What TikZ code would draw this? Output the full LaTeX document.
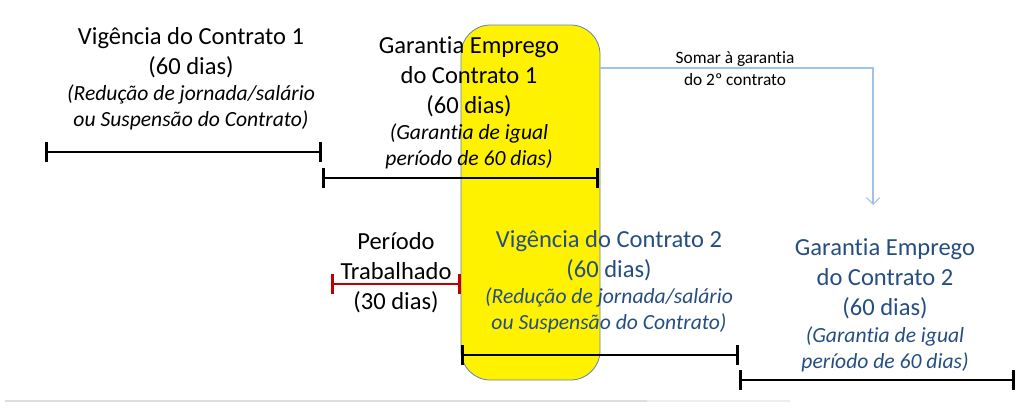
\documentclass[tikz,border=0pt]{standalone}
\usepackage{fontspec}
\setmainfont[Ligatures=NoCommon]{Carlito}
\usetikzlibrary{arrows.meta}
\definecolor{myellow}{RGB}{255,242,0}
\definecolor{mborder}{RGB}{96,130,180}
\definecolor{mblue}{RGB}{36,78,130}
\definecolor{mred}{RGB}{192,0,0}
\definecolor{marrow}{RGB}{157,195,230}

\tikzset{
  bar/.style={line width=2.2pt, {Bar[width=15pt]}-{Bar[width=15pt]}},
  title/.style={align=center, inner sep=0pt, font=\fontsize{18.4}{22.5}\selectfont},
  note/.style={align=center, inner sep=0pt, font=\fontsize{16.2}{19}\selectfont\itshape},
  small/.style={align=center, inner sep=0pt, font=\fontsize{13}{16.5}\selectfont},
  arr/.style={marrow, line width=0.8pt, -{Straight Barb[length=5pt,width=10pt]}}
}

\begin{document}
\begin{tikzpicture}[x=0.75pt, y=-0.75pt]
  \useasboundingbox (0,0) rectangle (1024,407);

  % yellow highlight
  \draw [fill=myellow, draw=mborder, line width=0.6pt, rounded corners=22pt] (461,25) rectangle (600,380);

  % faint line at the bottom
  \draw [black!13, line width=2.2pt] (5,401) -- (647,401);
  \draw [black!7, line width=2.2pt] (647,401) -- (790,401);

  % bar end points
  \coordinate (v1a) at (45,152);
  \coordinate (v1b) at (322,152);
  \coordinate (g1a) at (322,178);
  \coordinate (g1b) at (599,178);
  \coordinate (pta) at (331,284);
  \coordinate (ptb) at (461,284);
  \coordinate (v2a) at (461,355);
  \coordinate (v2b) at (739,355);
  \coordinate (g2a) at (739,380);
  \coordinate (g2b) at (1015,380);

  \draw [bar] (v1a) -- (v1b);
  \draw [bar] (g1a) -- (g1b);
  \draw [bar, mred] (pta) -- (ptb);
  \draw [bar] (v2a) -- (v2b);
  \draw [bar] (g2a) -- (g2b);

  % contrato 1
  \node [title] (vig1) at (191,53) {Vigência do Contrato 1\\(60 dias)};
  \node [note] (vig1n) at (191,107.5) {(Redução de jornada/salário\\ou Suspensão do Contrato)};
  \node [title] (gar1) at (469,77) {Garantia Emprego\\do Contrato 1\\(60 dias)};
  \node [note] (gar1n) at (469,146.5) {(Garantia de igual\\período de 60 dias)};

  % periodo trabalhado
  \node [title] (per) at (396,272.5) {Período\\Trabalhado\\(30 dias)};

  % contrato 2
  \node [title, mblue] (vig2) at (609,255.5) {Vigência do Contrato 2\\(60 dias)};
  \node [note, mblue] (vig2n) at (609,310.5) {(Redução de jornada/salário\\ou Suspensão do Contrato)};
  \node [title, mblue] (gar2) at (885,279) {Garantia Emprego\\do Contrato 2\\(60 dias)};
  \node [note, mblue] (gar2n) at (885,349.5) {(Garantia de igual\\período de 60 dias)};

  % somar a garantia
  \coordinate (sa) at (600,68);
  \coordinate (sb) at (873,205);
  \draw [arr] (sa) -| (sb);
  \node [small] (somar) at (735,69) {Somar à garantia\\do 2º contrato};
\end{tikzpicture}
\end{document}
